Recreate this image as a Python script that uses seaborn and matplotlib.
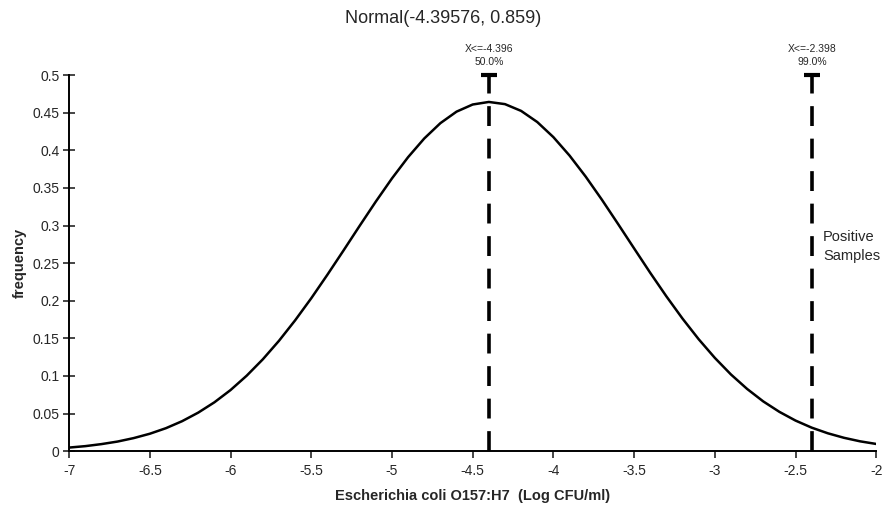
import pandas as pd
import seaborn as sns
import matplotlib.pyplot as plt
from matplotlib.ticker import FuncFormatter, MultipleLocator

sns.set_style("ticks")
plt.rcParams['font.family'] = ['Liberation Sans', 'DejaVu Sans']
plt.rcParams['axes.unicode_minus'] = False

# curve values (Normal(-4.39576, 0.859) density)
x_vals = [-7.0, -6.9, -6.8, -6.7, -6.6, -6.5, -6.4, -6.3, -6.2, -6.1,
          -6.0, -5.9, -5.8, -5.7, -5.6, -5.5, -5.4, -5.3, -5.2, -5.1,
          -5.0, -4.9, -4.8, -4.7, -4.6, -4.5, -4.4, -4.3, -4.2, -4.1,
          -4.0, -3.9, -3.8, -3.7, -3.6, -3.5, -3.4, -3.3, -3.2, -3.1,
          -3.0, -2.9, -2.8, -2.7, -2.6, -2.5, -2.4, -2.3, -2.2, -2.1, -2.0]
freq = [0.0047, 0.0066, 0.0093, 0.0127, 0.0173, 0.0231, 0.0305, 0.0398, 0.0512, 0.0649,
        0.0812, 0.1003, 0.1221, 0.1467, 0.1739, 0.2033, 0.2346, 0.2669, 0.2997, 0.3319,
        0.3627, 0.3910, 0.4158, 0.4362, 0.4515, 0.4610, 0.4644, 0.4615, 0.4525, 0.4377,
        0.4176, 0.3931, 0.3651, 0.3345, 0.3023, 0.2696, 0.2371, 0.2058, 0.1762, 0.1488,
        0.1240, 0.1019, 0.0827, 0.0661, 0.0522, 0.0406, 0.0312, 0.0237, 0.0177, 0.0130, 0.0095]

# percentile markers
pct_x = [-4.396, -2.398]
pct_labels = ["X<=-4.396\n50.0%", "X<=-2.398\n99.0%"]

df = pd.DataFrame({'x': x_vals, 'freq': freq})

fig = plt.figure(figsize=(8.86, 5.08), dpi=100)
ax = fig.add_axes([0.078, 0.112, 0.911, 0.740])

sns.lineplot(data=df, x='x', y='freq', color='black', linewidth=1.8, ax=ax)

for px, lab in zip(pct_x, pct_labels):
    ax.plot([px, px], [0, 0.5], color='black', linewidth=2.6,
            dashes=(5.5, 3.5), solid_capstyle='butt', dash_capstyle='butt')
    ax.plot([px], [0.5], marker='_', markersize=11, markeredgewidth=3,
            color='black', clip_on=False)
    ax.annotate(lab, xy=(px, 0.5), xytext=(0, 6), textcoords='offset points',
                ha='center', va='bottom', fontsize=7.5, linespacing=1.3,
                annotation_clip=False)

ax.text(-2.33, 0.272, "Positive\nSamples", ha='left', va='center',
        fontsize=10.5, linespacing=1.45)

ax.set_xlim(-7, -2)
ax.set_ylim(0, 0.5)
ax.xaxis.set_major_locator(MultipleLocator(0.5))
ax.yaxis.set_major_locator(MultipleLocator(0.05))
fmt = FuncFormatter(lambda v, p: f'{v:g}')
ax.xaxis.set_major_formatter(fmt)
ax.yaxis.set_major_formatter(fmt)
ax.tick_params(axis='y', direction='inout', length=8, width=1.2, labelsize=10, pad=3)
ax.tick_params(axis='x', direction='out', length=5, width=1.2, labelsize=10, pad=4)

sns.despine(ax=ax)
for s in ['left', 'bottom']:
    ax.spines[s].set_linewidth(1.4)
    ax.spines[s].set_color('black')

ax.set_xlabel('Escherichia coli O157:H7  (Log CFU/ml)', fontsize=10.5,
              fontweight='bold', labelpad=8)
ax.set_ylabel('frequency', fontsize=10.5, fontweight='bold', labelpad=4)

fig.suptitle('Normal(-4.39576, 0.859)', x=0.5, y=0.98, fontsize=13)

fig.savefig('out.png', dpi=100)
